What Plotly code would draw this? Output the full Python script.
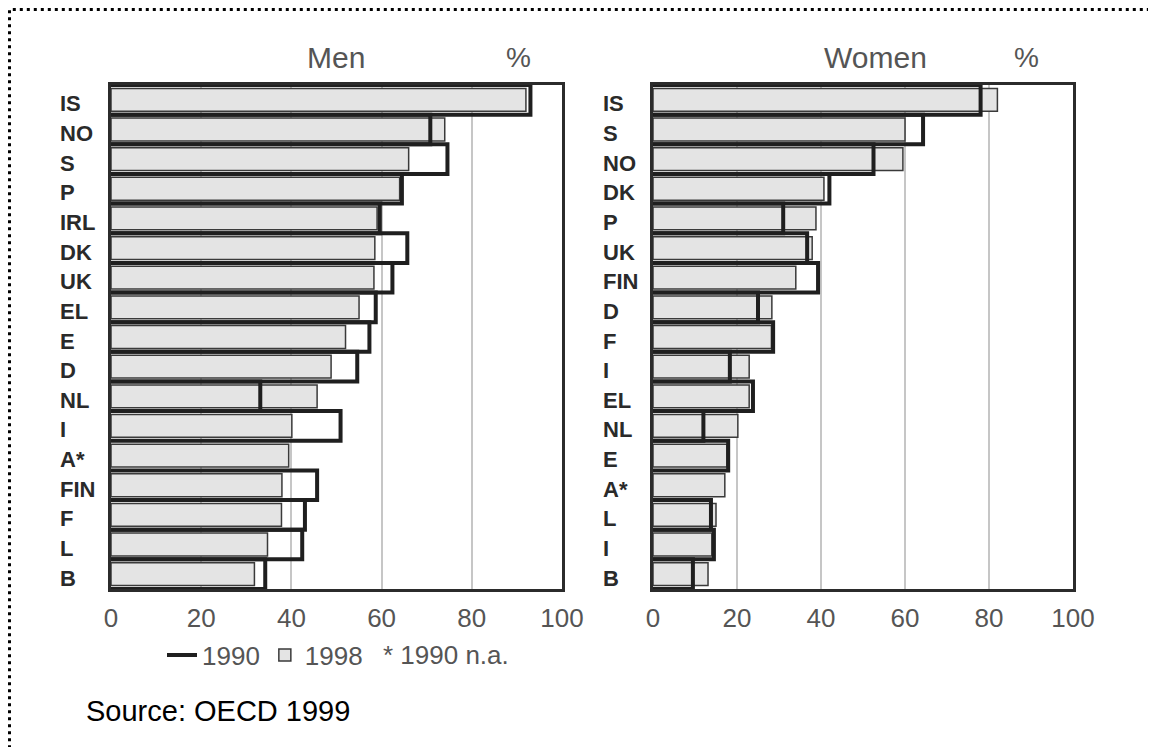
import plotly.graph_objects as go

# target screen size and the 8px body margin of the HTML page
SCREEN_W, SCREEN_H = 1156, 755
OFF = 8
FW, FH = SCREEN_W - 2 * OFF, SCREEN_H - 2 * OFF

# ---------------- data ----------------
men_countries = ["IS", "NO", "S", "P", "IRL", "DK", "UK", "EL", "E", "D", "NL", "I", "A*", "FIN", "F", "L", "B"]
men_1998 = [92, 74, 66, 64, 59, 58.5, 58.3, 55, 52, 48.8, 45.7, 40.1, 39.4, 37.9, 37.8, 34.7, 31.8]
men_1990 = [93, 70.8, 74.6, 64.5, 59.6, 65.7, 62.4, 58.7, 57.3, 54.6, 33.1, 50.9, None, 45.7, 43, 42.4, 34.2]

women_countries = ["IS", "S", "NO", "DK", "P", "UK", "FIN", "D", "F", "I", "EL", "NL", "E", "A*", "L", "I", "B"]
women_1998 = [82, 60, 59.5, 40.7, 38.8, 37.9, 34, 28.3, 28.2, 22.9, 22.9, 20.2, 17.6, 17.1, 15, 14, 13.1]
women_1990 = [78, 64.3, 52.5, 42, 31, 36.7, 39.3, 25, 28.6, 18.3, 23.8, 12, 17.9, None, 13.8, 14.5, 9.5]

x_ticks = [0, 20, 40, 60, 80, 100]
panel_titles = ["Men", "Women"]
source_text = "Source: OECD 1999"
na_note = "* 1990 n.a."

# ---------------- style ----------------
BAR_FILL = "#e4e4e4"
BAR_EDGE = "#3a3a3a"
LINE_1990 = "#1f1f1f"
FRAME = "#2b2b2b"
GRID = "#c6c6c6"
TXT_GRAY = "#555555"
FONT = "Liberation Sans, Arial, Helvetica, sans-serif"


def px(x):
    """screen x pixel -> paper fraction"""
    return (x - OFF) / FW


def py(y):
    """screen y pixel -> paper fraction"""
    return 1 - (y - OFF) / FH


def outline_path(values):
    xs, ys = [], []
    for i, v in enumerate(values):
        if v is None:
            continue
        xs += [0, v, v, 0, None]
        ys += [i - 0.5, i - 0.5, i + 0.5, i + 0.5, None]
    return xs, ys


fig = go.Figure()

panels = [
    (men_countries, men_1998, men_1990, "x", "y", True),
    (women_countries, women_1998, women_1990, "x2", "y2", False),
]

for cats, v98, v90, xa, ya, legend in panels:
    idx = list(range(len(cats)))
    fig.add_trace(go.Bar(
        x=v98, y=idx, orientation="h", width=0.77,
        marker=dict(color=BAR_FILL, line=dict(color=BAR_EDGE, width=1.5)),
        name="1998", legendrank=2, showlegend=legend, xaxis=xa, yaxis=ya,
        hoverinfo="skip",
    ))
    ox, oy = outline_path(v90)
    fig.add_trace(go.Scatter(
        x=ox, y=oy, mode="lines",
        line=dict(color=LINE_1990, width=4),
        name="1990", legendrank=1, showlegend=legend, xaxis=xa, yaxis=ya,
        hoverinfo="skip", connectgaps=False,
    ))

y_dom = [py(589), py(85)]
ax_common = dict(
    range=[0, 100], tickvals=x_ticks, ticks="", showline=True, mirror=True,
    linecolor=FRAME, linewidth=3, showgrid=True, gridcolor=GRID, gridwidth=2,
    zeroline=False, tickfont=dict(family=FONT, size=26, color=TXT_GRAY),
    ticklabelstandoff=4, fixedrange=True, automargin=False,
)
ay_common = dict(
    range=[16.5, -0.5], showticklabels=False, showgrid=False, zeroline=False,
    ticks="", showline=True, mirror=True, linecolor=FRAME, linewidth=3,
    fixedrange=True, automargin=False,
)

fig.update_layout(
    width=FW, height=FH,
    margin=dict(l=0, r=0, t=0, b=0, autoexpand=False),
    paper_bgcolor="white", plot_bgcolor="white",
    barmode="overlay",
    xaxis=dict(domain=[px(111), px(562)], anchor="y", **ax_common),
    yaxis=dict(domain=y_dom, anchor="x", **ay_common),
    xaxis2=dict(domain=[px(653), px(1073)], anchor="y2", **ax_common),
    yaxis2=dict(domain=y_dom, anchor="x2", **ay_common),
    showlegend=True,
    legend=dict(
        orientation="h", x=px(162), y=py(655), xanchor="left", yanchor="middle",
        font=dict(family=FONT, size=26, color=TXT_GRAY),
        bgcolor="rgba(0,0,0,0)", itemwidth=30, tracegroupgap=0,
        traceorder="normal",
    ),
)

annotations = []
# category labels, left aligned
for cats, xa_px, yref in [(men_countries, 58, "y"), (women_countries, 601, "y2")]:
    for i, c in enumerate(cats):
        annotations.append(dict(
            text=c, x=px(xa_px), xref="paper", xanchor="left",
            y=i, yref=yref, yanchor="middle", yshift=-4, showarrow=False,
            font=dict(family=FONT, size=22, color="#2a2a2a", weight="bold"),
        ))

# panel titles and % markers
for title, tx, pcx in [(panel_titles[0], 336, 518), (panel_titles[1], 875, 1026)]:
    annotations.append(dict(
        text=title, x=px(tx), y=py(57), xref="paper", yref="paper",
        xanchor="center", yanchor="middle", showarrow=False,
        font=dict(family=FONT, size=30, color=TXT_GRAY),
    ))
    annotations.append(dict(
        text="%", x=px(pcx), y=py(57), xref="paper", yref="paper",
        xanchor="center", yanchor="middle", showarrow=False,
        font=dict(family=FONT, size=28, color=TXT_GRAY),
    ))

annotations.append(dict(
    text=na_note, x=px(381), y=py(655), xref="paper", yref="paper",
    xanchor="left", yanchor="middle", showarrow=False,
    font=dict(family=FONT, size=26, color=TXT_GRAY),
))
annotations.append(dict(
    text=source_text, x=px(84), y=py(711), xref="paper", yref="paper",
    xanchor="left", yanchor="middle", showarrow=False,
    font=dict(family=FONT, size=29, color="#000000"),
))
fig.update_layout(annotations=annotations)

# dotted outer border (left and top edges visible)
fig.add_shape(
    type="rect", xref="paper", yref="paper",
    x0=px(9.5), x1=1.2, y0=-0.2, y1=py(9.5),
    line=dict(color="#000000", width=3, dash="3px,4px"),
    fillcolor="rgba(0,0,0,0)", layer="above",
)

fig.write_html("out.html")
